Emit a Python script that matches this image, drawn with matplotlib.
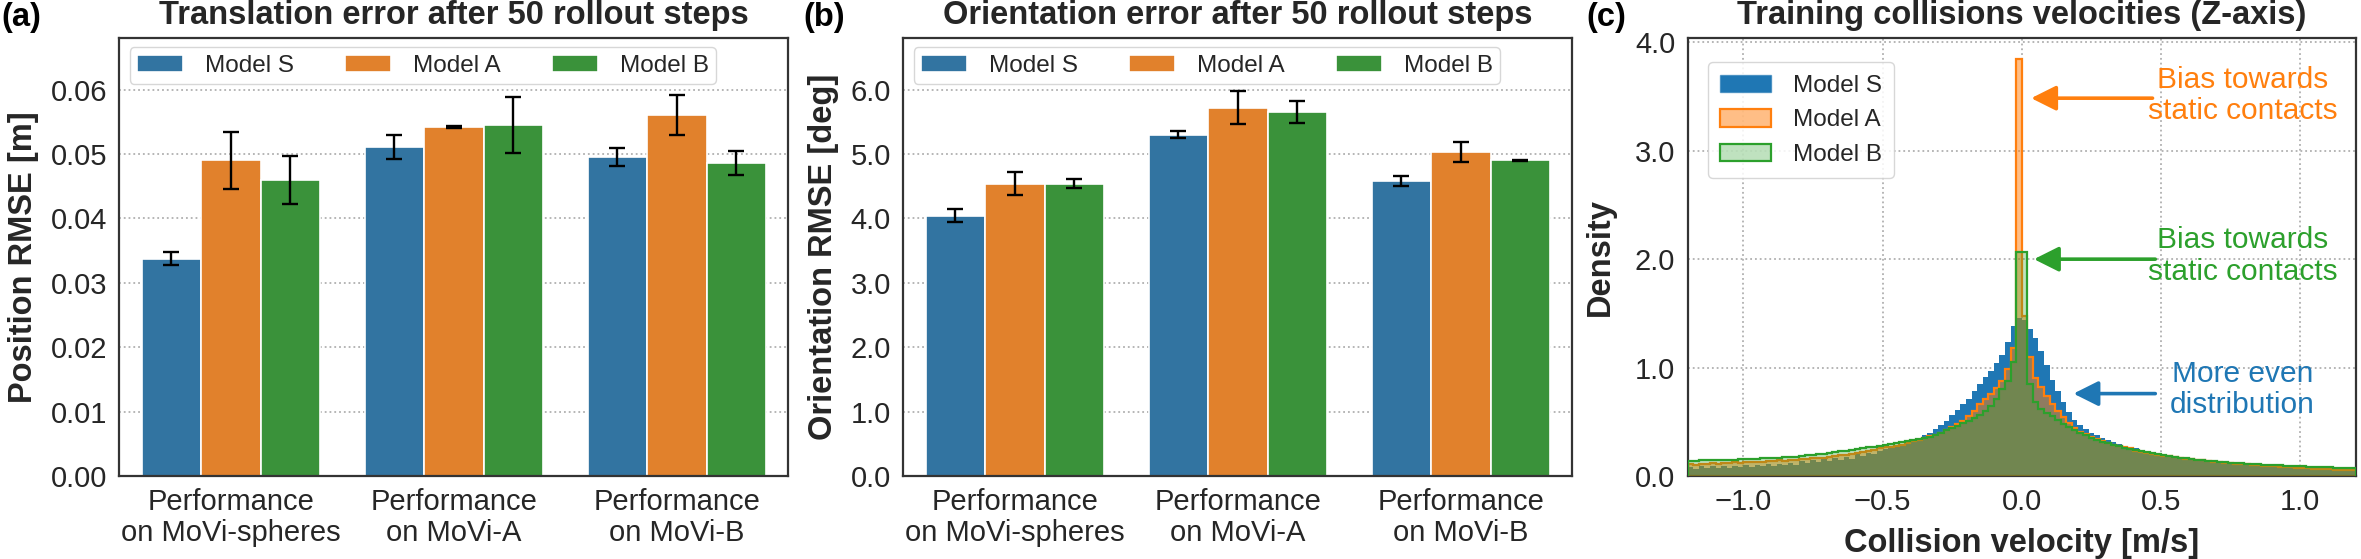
import numpy as np
import matplotlib
matplotlib.use('Agg')
import matplotlib.pyplot as plt
from matplotlib.patches import Patch
from matplotlib.colors import to_rgba

plt.rcParams['font.family'] = ['Liberation Sans', 'DejaVu Sans']
plt.rcParams['axes.unicode_minus'] = True

# ---------------- data ----------------
models = ['Model S', 'Model A', 'Model B']
datasets = ['Performance\non MoVi-spheres', 'Performance\non MoVi-A', 'Performance\non MoVi-B']

pos_s = [0.0337, 0.0511, 0.0496]
pos_s_err = [0.0010, 0.0019, 0.0014]
pos_a = [0.0490, 0.0542, 0.0560]
pos_a_err = [0.0044, 0.0002, 0.0031]
pos_b = [0.0460, 0.0545, 0.0486]
pos_b_err = [0.0037, 0.0043, 0.0019]

ori_s = [4.04, 5.30, 4.58]
ori_s_err = [0.10, 0.055, 0.07]
ori_a = [4.54, 5.72, 5.03]
ori_a_err = [0.18, 0.26, 0.16]
ori_b = [4.54, 5.65, 4.90]
ori_b_err = [0.07, 0.17, 0.01]

# histogram densities, bins of 0.02 from -1.2 to 1.2 (120 bins)
dens_s = [
    0.085, 0.068, 0.088, 0.071, 0.090, 0.074, 0.093, 0.077, 0.096, 0.080,
    0.102, 0.085, 0.106, 0.089, 0.110, 0.094, 0.115, 0.099, 0.121, 0.105,
    0.140, 0.124, 0.147, 0.131, 0.155, 0.140, 0.164, 0.150, 0.174, 0.161,
    0.200, 0.188, 0.212, 0.204, 0.228, 0.245, 0.258, 0.272, 0.288, 0.308,
    0.330, 0.355, 0.380, 0.400, 0.430, 0.470, 0.510, 0.560, 0.610, 0.660,
    0.710, 0.780, 0.850, 0.910, 0.970, 1.040, 1.120, 1.240, 1.380, 1.460,
    1.440, 1.360, 1.270, 1.150, 1.020, 0.890, 0.780, 0.680, 0.590, 0.520,
    0.470, 0.430, 0.400, 0.375, 0.355, 0.335, 0.318, 0.295, 0.280, 0.267,
    0.255, 0.241, 0.228, 0.216, 0.205, 0.196, 0.188, 0.180, 0.173, 0.169,
    0.165, 0.159, 0.153, 0.148, 0.143, 0.138, 0.134, 0.130, 0.126, 0.122,
    0.118, 0.114, 0.110, 0.106, 0.103, 0.100, 0.097, 0.094, 0.091, 0.088,
    0.085, 0.082, 0.080, 0.078, 0.076, 0.074, 0.072, 0.070, 0.068, 0.066,
]
dens_a = [
    0.110, 0.104, 0.113, 0.108, 0.117, 0.112, 0.121, 0.116, 0.125, 0.120,
    0.129, 0.125, 0.133, 0.130, 0.138, 0.135, 0.143, 0.141, 0.149, 0.147,
    0.155, 0.154, 0.162, 0.162, 0.170, 0.175, 0.183, 0.190, 0.198, 0.206,
    0.214, 0.222, 0.232, 0.243, 0.255, 0.265, 0.272, 0.280, 0.290, 0.305,
    0.320, 0.335, 0.350, 0.365, 0.380, 0.400, 0.420, 0.450, 0.480, 0.510,
    0.550, 0.600, 0.660, 0.710, 0.760, 0.810, 0.880, 0.990, 1.180, 3.850,
    1.480, 1.100, 0.900, 0.820, 0.740, 0.660, 0.600, 0.540, 0.490, 0.440,
    0.410, 0.385, 0.360, 0.340, 0.320, 0.305, 0.290, 0.277, 0.265, 0.254,
    0.232, 0.222, 0.213, 0.204, 0.196, 0.188, 0.181, 0.174, 0.167, 0.161,
    0.155, 0.149, 0.143, 0.138, 0.133, 0.128, 0.123, 0.119, 0.115, 0.111,
    0.107, 0.103, 0.099, 0.096, 0.093, 0.090, 0.087, 0.084, 0.081, 0.078,
    0.075, 0.072, 0.069, 0.066, 0.063, 0.060, 0.058, 0.056, 0.054, 0.052,
]
dens_b = [
    0.140, 0.141, 0.143, 0.144, 0.146, 0.147, 0.149, 0.150, 0.152, 0.154,
    0.156, 0.158, 0.160, 0.162, 0.164, 0.166, 0.169, 0.172, 0.175, 0.178,
    0.188, 0.192, 0.197, 0.202, 0.207, 0.213, 0.219, 0.226, 0.233, 0.240,
    0.248, 0.256, 0.264, 0.272, 0.281, 0.290, 0.298, 0.305, 0.312, 0.320,
    0.330, 0.340, 0.350, 0.360, 0.380, 0.400, 0.420, 0.445, 0.465, 0.485,
    0.510, 0.535, 0.560, 0.600, 0.650, 0.710, 0.800, 0.880, 1.050, 2.070,
    2.070, 0.850, 0.680, 0.620, 0.580, 0.550, 0.520, 0.480, 0.450, 0.420,
    0.400, 0.375, 0.355, 0.335, 0.318, 0.302, 0.288, 0.274, 0.261, 0.249,
    0.238, 0.228, 0.218, 0.209, 0.200, 0.192, 0.184, 0.177, 0.170, 0.164,
    0.158, 0.152, 0.147, 0.142, 0.137, 0.132, 0.128, 0.124, 0.120, 0.116,
    0.113, 0.110, 0.107, 0.104, 0.101, 0.099, 0.097, 0.095, 0.093, 0.091,
    0.089, 0.087, 0.085, 0.083, 0.081, 0.079, 0.077, 0.075, 0.073, 0.071,
]
bin_edges = np.linspace(-1.2, 1.2, 121)

# ---------------- styling ----------------
bar_colors = ['#3274a1', '#e1812c', '#3a923a']
hist_colors = ['#1f77b4', '#ff7f0e', '#2ca02c']
text_col = '#262626'
spine_col = '#333333'
grid_kw = dict(color='#b0b0b0', linestyle=':', linewidth=1.3)

W, H = 2361, 559
fig = plt.figure(figsize=(W / 100, H / 100), dpi=100)

ax_bottom = (H - 476) / H
ax_height = (476 - 38) / H
ax_a = fig.add_axes([119.4 / W, ax_bottom, 669 / W, ax_height])
ax_b = fig.add_axes([903.4 / W, ax_bottom, 669 / W, ax_height])
ax_c = fig.add_axes([1687.7 / W, ax_bottom, 668 / W, ax_height])

TICK_FS = 21
LAB_FS = 23.5
LEG_FS = 17.5
ANN_FS = 21.5


def style_axes(ax):
    for sp in ax.spines.values():
        sp.set_color(spine_col)
        sp.set_linewidth(1.6)
    ax.tick_params(length=0, labelsize=TICK_FS, colors=text_col, pad=9)
    ax.set_axisbelow(True)


def bar_panel(ax, series, errors, ylim, yticks, fmt, ylabel, title):
    x = np.arange(len(datasets))
    w = 0.8 / 3
    for k in range(3):
        xs = x + (k - 1) * w
        ax.bar(xs, series[k], w, color=bar_colors[k], edgecolor='white',
               linewidth=1.2, label=models[k], zorder=2)
        ax.errorbar(xs, series[k], yerr=errors[k], fmt='none', ecolor='black',
                    elinewidth=1.7, capsize=5.5, capthick=1.7, zorder=3)
    ax.set_xlim(-0.5, 2.5)
    ax.set_ylim(*ylim)
    ax.set_yticks(yticks)
    ax.set_yticklabels([fmt % v for v in yticks])
    ax.set_xticks(x)
    ax.set_xticklabels(datasets, linespacing=1.1)
    ax.yaxis.grid(True, **grid_kw)
    ax.xaxis.grid(False)
    style_axes(ax)
    ax.set_ylabel(ylabel, fontsize=LAB_FS, fontweight='bold', color=text_col, labelpad=8)
    ax.set_title(title, fontsize=LAB_FS, fontweight='bold', color=text_col, pad=10)
    leg = ax.legend(loc='upper left', bbox_to_anchor=(0.008, 0.99), ncol=3,
                    fontsize=LEG_FS, handlelength=1.9, handleheight=0.7,
                    handletextpad=0.9, columnspacing=2.1, borderpad=0.3,
                    borderaxespad=0.2,
                    frameon=True, fancybox=True, framealpha=0.85, edgecolor='#d0d0d0')
    leg.set_zorder(5)
    for t in leg.get_texts():
        t.set_color(text_col)


bar_panel(ax_a, [pos_s, pos_a, pos_b], [pos_s_err, pos_a_err, pos_b_err],
          (0, 0.068), [0.0, 0.01, 0.02, 0.03, 0.04, 0.05, 0.06], '%.2f',
          'Position RMSE [m]', 'Translation error after 50 rollout steps')
bar_panel(ax_b, [ori_s, ori_a, ori_b], [ori_s_err, ori_a_err, ori_b_err],
          (0, 6.8), [0.0, 1.0, 2.0, 3.0, 4.0, 5.0, 6.0], '%.1f',
          'Orientation RMSE [deg]', 'Orientation error after 50 rollout steps')

# ---------------- histogram panel ----------------
ax = ax_c
ax.stairs(dens_s, bin_edges, fill=True, facecolor=hist_colors[0],
          edgecolor=hist_colors[0], linewidth=0, zorder=2)
ax.stairs(dens_a, bin_edges, fill=True, facecolor=to_rgba(hist_colors[1], 0.5),
          edgecolor=hist_colors[1], linewidth=1.6, zorder=3)
ax.stairs(dens_b, bin_edges, fill=True, facecolor=to_rgba(hist_colors[2], 0.3),
          edgecolor=hist_colors[2], linewidth=1.6, zorder=4)
ax.set_xlim(-1.2, 1.2)
ax.set_ylim(0, 4.04)
ax.set_xticks([-1.0, -0.5, 0.0, 0.5, 1.0])
ax.set_xticklabels(['\u22121.0', '\u22120.5', '0.0', '0.5', '1.0'])
ax.set_yticks([0.0, 1.0, 2.0, 3.0, 4.0])
ax.set_yticklabels(['0.0', '1.0', '2.0', '3.0', '4.0'])
ax.grid(True, **grid_kw)
style_axes(ax)
ax.set_xlabel('Collision velocity [m/s]', fontsize=LAB_FS, fontweight='bold', color=text_col, labelpad=8)
ax.set_ylabel('Density', fontsize=LAB_FS, fontweight='bold', color=text_col, labelpad=14)
ax.set_title('Training collisions velocities (Z-axis)', fontsize=LAB_FS,
             fontweight='bold', color=text_col, pad=10)

handles = [
    Patch(facecolor=hist_colors[0], edgecolor=to_rgba(hist_colors[0], 0.6), linewidth=1.0),
    Patch(facecolor=to_rgba(hist_colors[1], 0.5), edgecolor=hist_colors[1], linewidth=1.6),
    Patch(facecolor=to_rgba(hist_colors[2], 0.3), edgecolor=hist_colors[2], linewidth=1.6),
]
leg = ax.legend(handles, models, loc='upper left', bbox_to_anchor=(0.012, 0.972),
                fontsize=LEG_FS, handlelength=2.1, handleheight=0.75,
                handletextpad=0.9, labelspacing=0.5, borderpad=0.5,
                frameon=True, fancybox=True, framealpha=0.85, edgecolor='#d0d0d0')
leg.set_zorder(6)
for t in leg.get_texts():
    t.set_color(text_col)

annotations = [
    ('Bias towards\nstatic contacts', hist_colors[1], (0.793, 3.51), (0.034, 3.485), (0.47, 3.485)),
    ('Bias towards\nstatic contacts', hist_colors[2], (0.793, 2.03), (0.044, 2.0), (0.48, 2.0)),
    ('More even\ndistribution', hist_colors[0], (0.793, 0.80), (0.186, 0.76), (0.48, 0.76)),
]
for txt, col, tpos, tip, tail in annotations:
    ax.text(tpos[0], tpos[1], txt, color=col, fontsize=ANN_FS, ha='center',
            va='center', linespacing=1.15, zorder=7)
    ax.annotate('', xy=tip, xytext=tail,
                arrowprops=dict(arrowstyle='-|>', color=col, lw=2.6,
                                mutation_scale=38, shrinkA=0, shrinkB=0),
                zorder=7)

# panel letters
for lbl, xpx in [('(a)', 1), ('(b)', 803), ('(c)', 1586)]:
    fig.text(xpx / W, 1 - 2 / H, lbl, fontsize=LAB_FS, fontweight='bold',
             color='black', ha='left', va='top')

fig.savefig('out.png', dpi=100)
